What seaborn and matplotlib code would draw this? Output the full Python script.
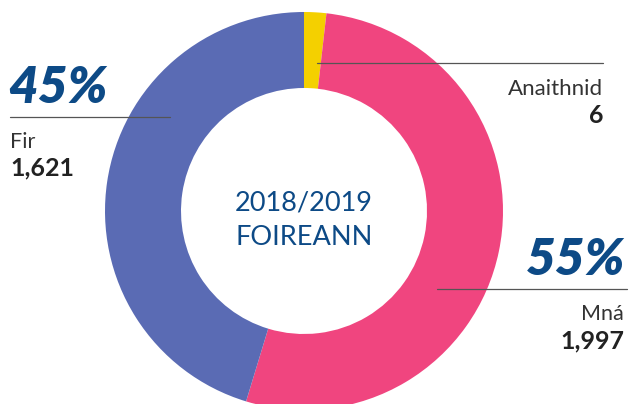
import matplotlib
matplotlib.use('Agg')
import matplotlib.pyplot as plt
import seaborn as sns

sns.set_style(style='white')
plt.rcParams['font.family'] = ['Lato', 'DejaVu Sans']

# data
groups = ['Anaithnid', 'Mná', 'Fir']
counts = [6, 1997, 1621]
shares_drawn = [1.8, 52.9, 45.3]   # slice widths as drawn (small slice enlarged)
pct_labels = ['', '55%', '45%']
colors = ['#f4d000', '#f0457f', '#5a6bb4']
title_lines = ['2018/2019', 'FOIREANN']

W, H = 630, 404
navy = '#0d4a86'
line_col = '#555555'


def main():
    fig = plt.figure(figsize=(W / 100, H / 100), dpi=100)
    ax = fig.add_axes([0, 0, 1, 1])
    ax.set_xlim(0, W)
    ax.set_ylim(0, H)
    ax.axis('off')

    cx, cy, r = 304, H - 211, 199
    ax.pie(shares_drawn, colors=colors, startangle=90, counterclock=False,
           center=(cx, cy), radius=r,
           wedgeprops=dict(width=r - 123, linewidth=0))
    ax.set_xlim(0, W)
    ax.set_ylim(0, H)
    ax.set_aspect('equal')

    # centre title
    ax.text(cx, H - 211, title_lines[0], ha='center', va='baseline',
            fontsize=19.5, color=navy)
    ax.text(cx, H - 245, title_lines[1], ha='center', va='baseline',
            fontsize=19.5, color=navy)

    # leader lines
    ax.plot([10, 170], [H - 117, H - 117], color=line_col, lw=0.9)
    ax.plot([317, 603], [H - 63, H - 63], color=line_col, lw=0.9)
    ax.plot([437, 627], [H - 289, H - 289], color=line_col, lw=0.9)

    # Fir (left)
    ax.text(8, H - 103, pct_labels[2], ha='left', va='baseline', fontsize=37,
            fontweight='heavy', fontstyle='italic', color=navy)
    ax.text(10, H - 148, groups[2], ha='left', va='baseline', fontsize=15.5,
            color='#333333')
    ax.text(10, H - 175, f'{counts[2]:,}', ha='left', va='baseline', fontsize=18,
            fontweight='bold', color='#222222')

    # Anaithnid (top right)
    ax.text(603, H - 95, groups[0], ha='right', va='baseline', fontsize=16,
            color='#333333')
    ax.text(603, H - 123, f'{counts[0]:,}', ha='right', va='baseline', fontsize=18,
            fontweight='bold', color='#222222')

    # Mná (bottom right)
    ax.text(625, H - 275, pct_labels[1], ha='right', va='baseline', fontsize=37,
            fontweight='heavy', fontstyle='italic', color=navy)
    ax.text(624, H - 320, groups[1], ha='right', va='baseline', fontsize=15.5,
            color='#333333')
    ax.text(624, H - 348, f'{counts[1]:,}', ha='right', va='baseline', fontsize=18,
            fontweight='bold', color='#222222')

    fig.savefig('out.png', dpi=100, facecolor='white')


if __name__ == '__main__':
    main()
